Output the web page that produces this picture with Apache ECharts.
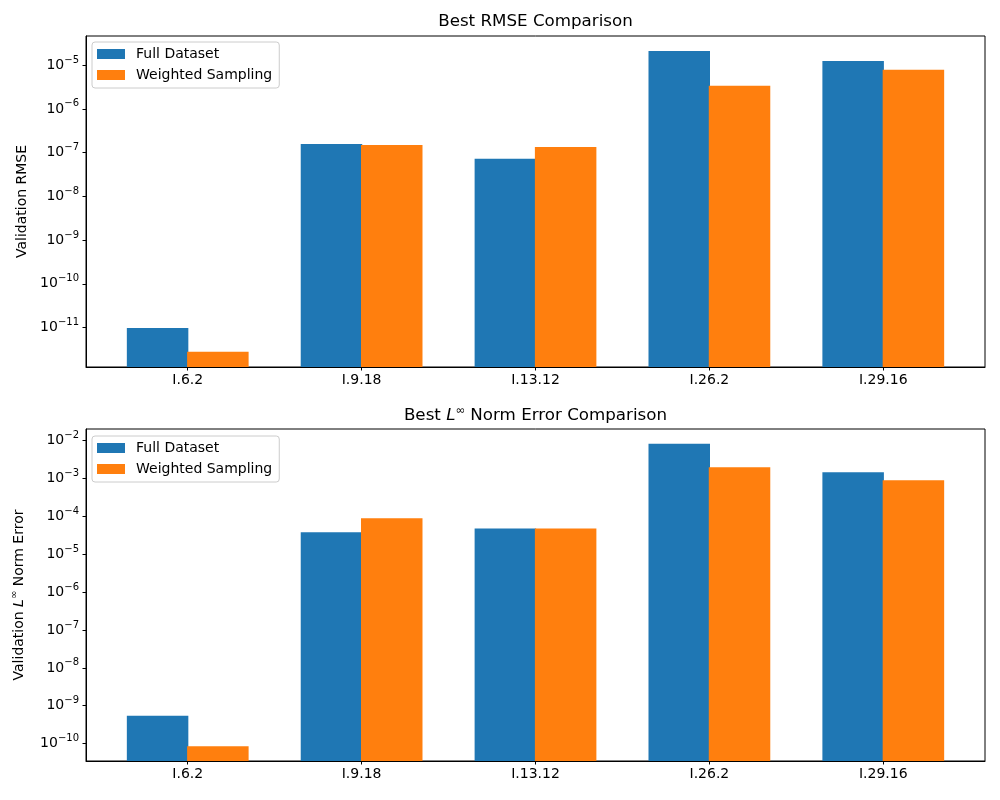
<!DOCTYPE html>
<html><head><meta charset="utf-8">
<script src="https://cdn.jsdelivr.net/npm/echarts@6/dist/echarts.min.js"></script>
<style>html,body{margin:0;padding:0;background:#fff}#c{width:1000px;height:800px}</style>
</head><body><div id="c"></div>
<script>
const categories = ['I.6.2', 'I.9.18', 'I.13.12', 'I.26.2', 'I.29.16'];
const seriesNames = ['Full Dataset', 'Weighted Sampling'];
const rmseFull = [9.7e-12, 1.58e-7, 7.2e-8, 2.12e-5, 1.25e-5];
const rmseWeighted = [2.8e-12, 1.5e-7, 1.35e-7, 3.4e-6, 7.8e-6];
const linfFull = [5.4e-10, 3.8e-5, 4.8e-5, 8.3e-3, 1.47e-3];
const linfWeighted = [8.5e-11, 8.9e-5, 4.8e-5, 2.0e-3, 9.0e-4];

const FONT = 'DejaVu Sans';
const colors = ['#1f77b4', '#ff7f0e'];
const tickIdx = categories.map((c, i) => i);

function logLabel(v) {
  const l = Math.log10(v);
  const e = Math.round(l);
  if (Math.abs(l - e) > 0.01) return '';
  return '{b|10}{s|' + (e < 0 ? '\u2212' : '') + Math.abs(e) + '}';
}
const labelRich = {
  b: { fontSize: 14, fontFamily: FONT, color: '#000', lineHeight: 20 },
  s: { fontSize: 10, fontFamily: FONT, color: '#000', verticalAlign: 'top', lineHeight: 10 }
};

function grid(top, height) {
  return { left: 86, width: 899, top: top, height: height, show: true, borderColor: '#000', borderWidth: 1,
    backgroundColor: 'transparent', containLabel: false, outerBoundsMode: 'none' };
}
function xAxis(gi) {
  return {
    type: 'value', gridIndex: gi, min: -0.585, max: 4.585, splitLine: { show: false },
    axisLine: { show: true, onZero: false, lineStyle: { color: '#000', width: 1 } },
    axisTick: { show: true, length: 3.5, lineStyle: { color: '#000', width: 1 }, customValues: tickIdx },
    axisLabel: { customValues: tickIdx, formatter: v => categories[Math.round(v)], color: '#000',
      fontSize: 14, fontFamily: FONT, margin: 6 }
  };
}
function yAxis(gi, min, max, name, nameRich) {
  return {
    type: 'log', logBase: 10, gridIndex: gi, min: min, max: max, startValue: min,
    splitLine: { show: false }, minorTick: { show: false }, minorSplitLine: { show: false },
    axisLine: { show: true, onZero: false, lineStyle: { color: '#000', width: 1 } },
    axisTick: { show: true, length: 3.5, lineStyle: { color: '#000', width: 1 } },
    axisLabel: { formatter: logLabel, rich: labelRich, color: '#000', margin: 7, showMinLabel: false, showMaxLabel: false },
    name: name, nameLocation: 'middle', nameGap: 57,
    nameTextStyle: { fontSize: 14, fontFamily: FONT, color: '#000', rich: nameRich }
  };
}
function legend(top) {
  return {
    data: seriesNames, left: 92, top: top, orient: 'vertical', icon: 'rect', itemWidth: 28, itemHeight: 10, itemGap: 7,
    backgroundColor: '#fff', borderColor: '#cccccc', borderWidth: 1, borderRadius: 3, padding: [5, 7, 6, 5],
    itemStyle: { borderWidth: 0 },
    textStyle: { fontSize: 14, color: '#000', fontFamily: FONT, padding: [0, 0, 0, 6] }
  };
}
function bar(name, data, ai, ci) {
  return {
    type: 'bar', name: name, xAxisIndex: ai, yAxisIndex: ai, data: data.map((v, i) => [i, v]),
    barWidth: 61.5, barGap: '-2%', itemStyle: { color: colors[ci], borderWidth: 0 },
    emphasis: { disabled: true }, animation: false
  };
}
const richName = {
  n: { fontSize: 14, fontFamily: FONT, color: '#000', lineHeight: 20 },
  i: { fontSize: 14, fontFamily: FONT, color: '#000', fontStyle: 'italic', lineHeight: 20 },
  s: { fontSize: 10, fontFamily: FONT, color: '#000', verticalAlign: 'top', lineHeight: 10 }
};
const richTitle = {
  n: { fontSize: 16.7, fontFamily: FONT, color: '#000', lineHeight: 22 },
  i: { fontSize: 16.7, fontFamily: FONT, color: '#000', fontStyle: 'italic', lineHeight: 22 },
  s: { fontSize: 11.5, fontFamily: FONT, color: '#000', verticalAlign: 'top', lineHeight: 11 }
};

const chart = echarts.init(document.getElementById('c'), null, { renderer: 'canvas' });
chart.setOption({
  animation: false,
  backgroundColor: '#fff',
  color: colors,
  title: [
    { text: 'Best RMSE Comparison', left: 535.5, textAlign: 'center', top: 13, padding: 0,
      textStyle: { fontSize: 16.7, fontWeight: 'normal', fontFamily: FONT, color: '#000' } },
    { text: '{n|Best }{i|L}{s|\u221E}{n| Norm Error Comparison}', left: 535.5, textAlign: 'center', top: 405, padding: 0,
      textStyle: { fontSize: 16.7, fontWeight: 'normal', fontFamily: FONT, color: '#000', rich: richTitle } }
  ],
  legend: [legend(42), legend(436)],
  grid: [grid(36, 331), grid(429, 332)],
  xAxis: [xAxis(0), xAxis(1)],
  yAxis: [
    yAxis(0, 1.25e-12, 4.64e-5, 'Validation RMSE', null),
    yAxis(1, 3.47e-11, 2.04e-2, '{n|Validation }{i|L}{s|\u221E}{n| Norm Error}', richName)
  ],
  series: [
    bar(seriesNames[0], rmseFull, 0, 0),
    bar(seriesNames[1], rmseWeighted, 0, 1),
    bar(seriesNames[0], linfFull, 1, 0),
    bar(seriesNames[1], linfWeighted, 1, 1)
  ]
});
</script>
</body></html>
